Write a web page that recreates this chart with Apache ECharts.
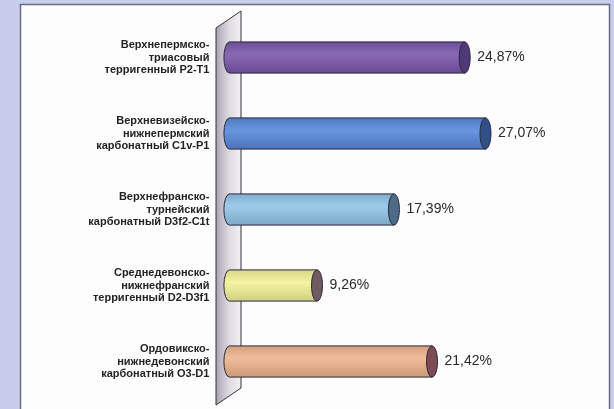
<!DOCTYPE html>
<html>
<head>
<meta charset="utf-8">
<script src="https://cdn.jsdelivr.net/npm/echarts@6/dist/echarts.min.js"></script>
<style>
  html, body { margin: 0; padding: 0; background: #c8cdec; }
  #chart { width: 614px; height: 409px; }
</style>
</head>
<body>
<div id="chart"></div>
<script>
// Complexes, listed top to bottom
const categories = [
  'Верхнепермско-\nтриасовый\nтерригенный P2-T1',
  'Верхневизейско-\nнижнепермский\nкарбонатный C1v-P1',
  'Верхнефранско-\nтурнейский\nкарбонатный D3f2-C1t',
  'Среднедевонско-\nнижнефранский\nтерригенный D2-D3f1',
  'Ордовикско-\nнижнедевонский\nкарбонатный O3-D1'
];
// Share of each complex, %
const shares = [24.87, 27.07, 17.39, 9.26, 21.42];

// Cylinder body / end-cap colours per bar
const bodyColors = ['#7a56aa', '#5688dc', '#92c4e8', '#f2f296', '#efb48c'];
const capColors  = ['#4e3a78', '#2f4f86', '#4f6a88', '#6e5c62', '#7c4c56'];

function shade(hex, k) {
  const n = parseInt(hex.slice(1), 16);
  let r = (n >> 16) & 255, g = (n >> 8) & 255, b = n & 255;
  const f = c => Math.max(0, Math.min(255, Math.round(k >= 0 ? c + (255 - c) * k : c * (1 + k))));
  return 'rgb(' + f(r) + ',' + f(g) + ',' + f(b) + ')';
}

const chart = echarts.init(document.getElementById('chart'));

function renderCylinder(params, api) {
  const idx = api.value(1);
  const v = api.value(0);
  const end = api.coord([v, idx]);
  const start = api.coord([0, idx]);
  const band = api.size([0, 1])[1];
  const ry = band * 0.41 / 2;
  const rx = 5.5;
  const cy = end[1];
  const x0 = start[0], x1 = end[0];
  const body = bodyColors[idx], cap = capColors[idx];
  const grad = new echarts.graphic.LinearGradient(0, 0, 0, 1, [
    { offset: 0, color: shade(body, -0.12) },
    { offset: 0.4, color: shade(body, 0.12) },
    { offset: 1, color: shade(body, -0.15) }
  ]);
  const d = 'M' + x0 + ' ' + (cy - ry) +
    ' L' + x1 + ' ' + (cy - ry) +
    ' L' + x1 + ' ' + (cy + ry) +
    ' L' + x0 + ' ' + (cy + ry) +
    ' A' + rx + ' ' + ry + ' 0 0 1 ' + x0 + ' ' + (cy - ry) + ' Z';
  return {
    type: 'group',
    children: [
      {
        type: 'path',
        shape: { pathData: d },
        style: { fill: grad, stroke: '#2a2836', lineWidth: 1 }
      },
      {
        type: 'ellipse',
        shape: { cx: x1, cy: cy, rx: rx, ry: ry },
        style: { fill: cap, stroke: '#2a2836', lineWidth: 1 }
      },
      {
        type: 'text',
        x: x1 + rx + 7,
        y: cy,
        style: {
          text: v.toFixed(2).replace('.', ',') + '%',
          fill: '#2a2a2a',
          font: '14px "Liberation Sans", Arial, sans-serif',
          verticalAlign: 'middle',
          align: 'left'
        }
      }
    ]
  };
}

chart.setOption({
  backgroundColor: '#c8cdec',
  animation: false,
  graphic: [
    // white panel
    {
      type: 'rect', z: -10,
      shape: { x: 20.5, y: 4.5, width: 589, height: 430 },
      style: { fill: '#fdfdfe', stroke: '#6a6c80', lineWidth: 1.5 }
    },
    // back wall
    {
      type: 'polygon', z: -5,
      shape: { points: [[216, 28], [241, 11], [241, 388], [216, 405]] },
      style: {
        fill: new echarts.graphic.LinearGradient(0, 0, 1, 0, [
          { offset: 0, color: '#a9a2ae' },
          { offset: 0.5, color: '#dcd8df' },
          { offset: 1, color: '#f4f3f6' }
        ]),
        stroke: '#333340', lineWidth: 1
      }
    }
  ],
  grid: { left: 229.4, right: 6.2, top: 19.5, bottom: 9.5 },
  xAxis: {
    type: 'value', min: 0, max: 40,
    show: false
  },
  yAxis: {
    type: 'category',
    data: categories,
    inverse: true,
    axisLine: { show: false },
    axisTick: { show: false },
    axisLabel: {
      margin: 20,
      align: 'right',
      lineHeight: 12.5,
      fontFamily: '"Liberation Sans", Arial, sans-serif',
      fontWeight: 'bold',
      fontSize: 11,
      color: '#232323'
    }
  },
  series: [{
    type: 'custom',
    renderItem: renderCylinder,
    encode: { x: 0, y: 1 },
    data: shares.map((v, i) => [v, i])
  }]
});
</script>
</body>
</html>
